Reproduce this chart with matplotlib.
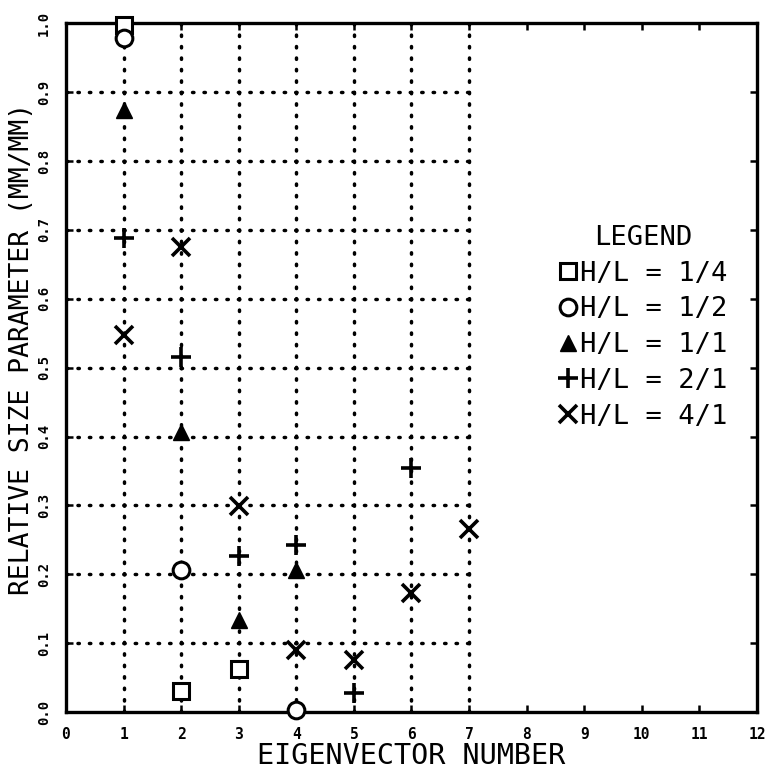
import matplotlib
matplotlib.use("Agg")
import matplotlib.pyplot as plt

# data (eigenvector number vs relative size parameter)
sq_x = [1, 2, 3]
sq_y = [0.997, 0.030, 0.062]
ci_x = [1, 2, 4]
ci_y = [0.978, 0.206, 0.003]
tr_x = [1, 2, 3, 4]
tr_y = [0.874, 0.407, 0.133, 0.206]
pl_x = [1, 2, 3, 4, 5, 6]
pl_y = [0.688, 0.515, 0.226, 0.242, 0.028, 0.354]
xx_x = [1, 2, 3, 4, 5, 6, 7]
xx_y = [0.547, 0.675, 0.299, 0.090, 0.075, 0.173, 0.266]

labels = ["H/L = 1/4", "H/L = 1/2", "H/L = 1/1", "H/L = 2/1", "H/L = 4/1"]
x_ticks = list(range(0, 13))
y_ticks = [i / 10 for i in range(11)]
grid_x = list(range(1, 8))
grid_y = [i / 10 for i in range(1, 10)]

mono = "DejaVu Sans Mono"

fig = plt.figure(figsize=(7.67, 7.74), dpi=100)
ax = fig.add_axes([0.086, 0.080, 0.901, 0.890])

# dotted grid, only over the part of the plot that holds data
dots = dict(color="black", linestyle=(0, (0.4, 2.9)), linewidth=2.5,
            capstyle="round", zorder=1)
ax.vlines(grid_x, 0, 1, **dots)
ax.hlines(grid_y, 0, max(grid_x), **dots)

mk = dict(linestyle="none", color="black", clip_on=False, zorder=3)
ax.plot(sq_x, sq_y, marker="s", markersize=11, markerfacecolor="white",
        markeredgewidth=2.2, label=labels[0], **mk)
ax.plot(ci_x, ci_y, marker="o", markersize=12, markerfacecolor="white",
        markeredgewidth=2.2, label=labels[1], **mk)
ax.plot(tr_x, tr_y, marker="^", markersize=12, label=labels[2], **mk)
ax.plot(pl_x, pl_y, marker="+", markersize=15, markeredgewidth=2.6,
        label=labels[3], **mk)
ax.plot(xx_x, xx_y, marker="x", markersize=13, markeredgewidth=2.6,
        label=labels[4], **mk)

ax.set_xlim(0, 12)
ax.set_ylim(0, 1.0)
ax.set_xticks(x_ticks)
ax.set_yticks(y_ticks)
ax.set_xticklabels([str(v) for v in x_ticks], fontfamily=mono,
                   fontweight="bold", fontsize=10.5)
ax.set_yticklabels(["%.1f" % v for v in y_ticks], fontfamily=mono,
                   fontweight="bold", fontsize=10, rotation=90, va="center")
ax.tick_params(direction="in", length=5, width=1.8, top=True, right=True)
ax.tick_params(axis="x", pad=11)
ax.tick_params(axis="y", pad=11)
for s in ax.spines.values():
    s.set_linewidth(2.4)

ax.set_xlabel("EIGENVECTOR NUMBER", fontfamily=mono, fontsize=20.5, va="center")
ax.xaxis.set_label_coords(0.5, -0.064)
ax.set_ylabel("RELATIVE SIZE PARAMETER (MM/MM)", fontfamily=mono,
              fontsize=19, va="center")
ax.yaxis.set_label_coords(-0.064, 0.527)

leg = ax.legend(loc="upper left", bbox_to_anchor=(0.695, 0.727),
                frameon=False, title="LEGEND", handlelength=0.6,
                handletextpad=0.15, labelspacing=0.36, borderpad=0,
                prop={"family": mono, "size": 19.5})
leg.get_title().set_fontfamily(mono)
leg.get_title().set_fontsize(19.5)

fig.savefig("out.png", dpi=100)
